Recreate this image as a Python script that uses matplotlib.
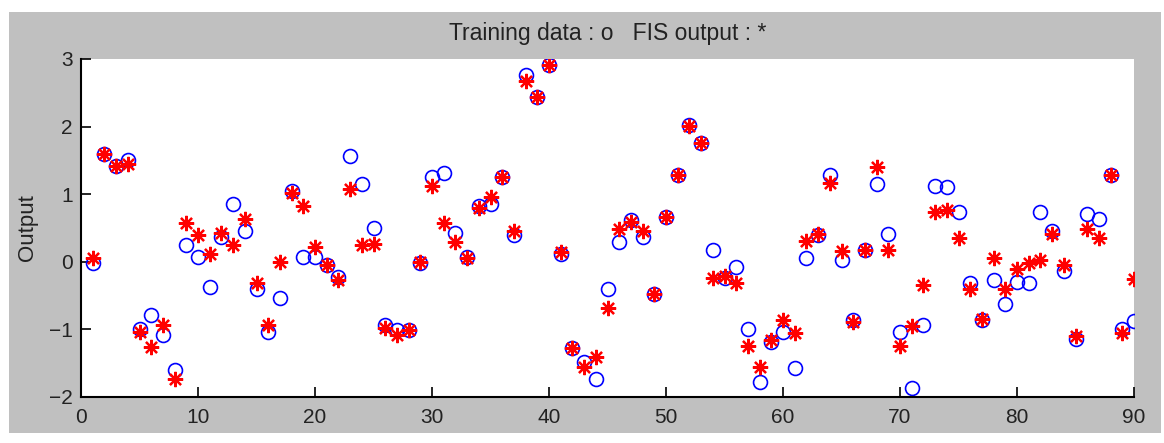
import numpy as np
import matplotlib
matplotlib.use("Agg")
import matplotlib.pyplot as plt
from matplotlib.patches import Rectangle

# training data (o) and FIS output (*)
idx = np.arange(1, 91)
training = [
    -0.02, 1.60, 1.41, 1.51, -1.00, -0.79, -1.09, -1.60, 0.25, 0.07,
    -0.37, 0.37, 0.85, 0.45, -0.40, -1.04, -0.53, 1.05, 0.07, 0.07,
    -0.05, -0.22, 1.57, 1.15, 0.50, -0.93, -1.01, -1.01, -0.02, 1.25,
    1.32, 0.43, 0.07, 0.83, 0.85, 1.26, 0.39, 2.76, 2.44, 2.91,
    0.11, -1.27, -1.48, -1.73, -0.40, 0.30, 0.62, 0.37, -0.48, 0.67,
    1.28, 2.03, 1.76, 0.18, -0.24, -0.08, -0.99, -1.78, -1.18, -1.04,
    -1.57, 0.05, 0.40, 1.29, 0.03, -0.86, 0.17, 1.15, 0.41, -1.04,
    -1.87, -0.93, 1.12, 1.10, 0.73, -0.31, -0.86, -0.27, -0.63, -0.30,
    -0.32, 0.74, 0.45, -0.14, -1.14, 0.70, 0.63, 1.28, -1.00, -0.88,
]
fis_out = [
    0.05, 1.60, 1.41, 1.45, -1.04, -1.26, -0.94, -1.73, 0.57, 0.40,
    0.11, 0.42, 0.25, 0.64, -0.31, -0.94, 0.00, 1.02, 0.83, 0.22,
    -0.05, -0.27, 1.07, 0.25, 0.26, -0.98, -1.09, -1.01, 0.00, 1.12,
    0.57, 0.30, 0.06, 0.80, 0.96, 1.26, 0.45, 2.67, 2.44, 2.91,
    0.14, -1.27, -1.56, -1.41, -0.68, 0.48, 0.59, 0.45, -0.48, 0.67,
    1.28, 2.01, 1.76, -0.24, -0.21, -0.32, -1.25, -1.55, -1.16, -0.86,
    -1.06, 0.31, 0.41, 1.17, 0.16, -0.89, 0.17, 1.40, 0.17, -1.25,
    -0.95, -0.35, 0.73, 0.77, 0.35, -0.40, -0.85, 0.06, -0.40, -0.10,
    -0.02, 0.02, 0.41, -0.05, -1.10, 0.48, 0.35, 1.29, -1.06, -0.26,
]

plt.rcParams['font.family'] = ['Liberation Sans', 'DejaVu Sans']

W, H = 1164, 443
gray = '#c0c0c0'
fig = plt.figure(figsize=(W / 100, H / 100), dpi=100, facecolor='white')
# gray figure window inside a thin white border (screen capture)
fig.patches.append(Rectangle((9 / W, 1 - 433 / H), (1161 - 9) / W, (433 - 12) / H,
                             transform=fig.transFigure, facecolor=gray,
                             edgecolor='none', zorder=-10))

ax = fig.add_axes([81 / W, 1 - 397 / H, (1134 - 81) / W, (397 - 59) / H])
ax.set_facecolor('white')

ax.plot(idx, training, 'o', mfc='none', mec='#0000ff', ms=10, mew=1.2, ls='none')
ax.plot(idx, fis_out, ls='none', marker=(8, 2, 0), color='#ff0000', ms=11, mew=1.6)

ax.set_xlim(0, 90)
ax.set_ylim(-2, 3)
ax.set_xticks(np.arange(0, 91, 10))
ax.set_yticks(np.arange(-2, 4, 1))
ax.tick_params(direction='in', length=7, width=1.2, labelsize=15, labelcolor='#222222')
ax.tick_params(axis='x', pad=8)
ax.tick_params(axis='y', pad=6)
for side in ['top', 'right']:
    ax.spines[side].set_visible(False)
for side in ['left', 'bottom']:
    ax.spines[side].set_linewidth(1.5)

ax.set_ylabel('Output', fontsize=16, labelpad=8, color='#222222')
ax.set_title('Training data : o   FIS output : *', fontsize=16.5, pad=14, color='#222222')

fig.savefig('out.png', dpi=100, facecolor='white')
